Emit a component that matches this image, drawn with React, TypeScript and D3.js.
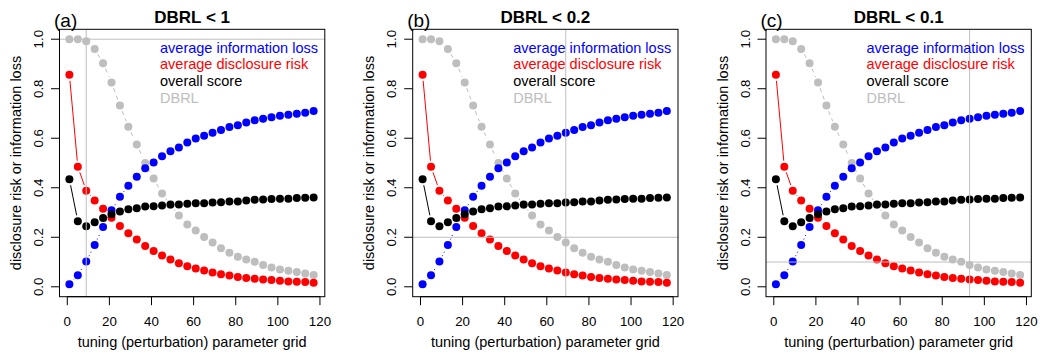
import React from "react";
import * as d3 from "d3";

const gridX = [1, 5, 9, 13, 17, 21, 25, 29, 33, 37, 41, 45, 49, 53, 57, 61, 65, 69, 73, 77, 81, 85, 89, 93, 97, 101, 105, 109, 113, 117];
const infoLoss = [0.010, 0.047, 0.102, 0.169, 0.242, 0.309, 0.364, 0.408, 0.444, 0.479, 0.502, 0.527, 0.547, 0.563, 0.583, 0.599, 0.610, 0.622, 0.633, 0.645, 0.652, 0.664, 0.673, 0.679, 0.685, 0.691, 0.695, 0.699, 0.703, 0.710];
const discRisk = [0.856, 0.485, 0.388, 0.349, 0.315, 0.279, 0.246, 0.216, 0.191, 0.165, 0.145, 0.126, 0.110, 0.095, 0.083, 0.074, 0.066, 0.058, 0.051, 0.046, 0.040, 0.036, 0.032, 0.029, 0.027, 0.024, 0.021, 0.020, 0.019, 0.016];
const overall = [0.434, 0.265, 0.245, 0.261, 0.278, 0.293, 0.304, 0.313, 0.317, 0.324, 0.325, 0.328, 0.332, 0.332, 0.335, 0.337, 0.337, 0.340, 0.341, 0.344, 0.345, 0.349, 0.352, 0.353, 0.355, 0.356, 0.356, 0.359, 0.360, 0.361];
const dbrl = [1.000, 1.000, 0.992, 0.960, 0.903, 0.825, 0.732, 0.646, 0.575, 0.500, 0.437, 0.377, 0.330, 0.288, 0.252, 0.227, 0.201, 0.179, 0.156, 0.138, 0.121, 0.110, 0.101, 0.088, 0.078, 0.070, 0.065, 0.060, 0.054, 0.048];

const panelTags = ["(a)", "(b)", "(c)"];
const panelTitles = ["DBRL < 1", "DBRL < 0.2", "DBRL < 0.1"];
const thresholds = [1, 0.2, 0.1];
const chosenX = [9, 69, 93];

const xTicks = [0, 20, 40, 60, 80, 100, 120];
const yTicks = [0, 0.2, 0.4, 0.6, 0.8, 1.0];

const legendLabels = ["average information loss", "average disclosure risk", "overall score", "DBRL"];
const xLabel = "tuning (perturbation) parameter grid";
const yLabel = "disclosure risk or information loss";

const GRAY = "#BEBEBE";
const FONT = "'Liberation Sans', Arial, Helvetica, sans-serif";

const series = [
  { values: dbrl, color: GRAY, dash: "4,4" },
  { values: infoLoss, color: "#0000FF", dash: "1,3" },
  { values: discRisk, color: "#FF0000", dash: null },
  { values: overall, color: "#000000", dash: null },
];
const legendColors = ["#0000FF", "#FF0000", "#000000", GRAY];

const PANEL_LEFTS = [59.5, 412.7, 766.0];
const BOX_W = 265.3;
const TOP = 29.3;
const BOTTOM = 296.7;

function Panel({ idx }: { idx: number }) {
  const left = PANEL_LEFTS[idx];
  const right = left + BOX_W;
  const x = d3.scaleLinear().domain([-3.7, 122.3]).range([left, right]);
  const y = d3.scaleLinear().domain([-0.04, 1.04]).range([BOTTOM, TOP]);
  const gap = 6;
  const cx = (left + right) / 2;
  const cy = (TOP + BOTTOM) / 2;

  const segs = (vals: number[]) => {
    const out: { x1: number; y1: number; x2: number; y2: number }[] = [];
    for (let i = 0; i < vals.length - 1; i++) {
      const ax = x(gridX[i]), ay = y(vals[i]);
      const bx = x(gridX[i + 1]), by = y(vals[i + 1]);
      const dx = bx - ax, dy = by - ay;
      const d = Math.hypot(dx, dy);
      if (d > 2 * gap) {
        const ux = dx / d, uy = dy / d;
        out.push({ x1: ax + ux * gap, y1: ay + uy * gap, x2: bx - ux * gap, y2: by - uy * gap });
      }
    }
    return out;
  };

  return (
    <g>
      {series.map((s, si) => (
        <g key={si}>
          {segs(s.values).map((sg, k) => (
            <line key={k} x1={sg.x1} y1={sg.y1} x2={sg.x2} y2={sg.y2} stroke={s.color} strokeWidth={1} strokeDasharray={s.dash ?? undefined} />
          ))}
          {s.values.map((v, k) => (
            <circle key={k} cx={x(gridX[k])} cy={y(v)} r={4} fill={s.color} />
          ))}
        </g>
      ))}
      <line x1={left} x2={right} y1={y(thresholds[idx])} y2={y(thresholds[idx])} stroke={GRAY} strokeWidth={1} />
      <line x1={x(chosenX[idx])} x2={x(chosenX[idx])} y1={TOP} y2={BOTTOM} stroke={GRAY} strokeWidth={1} />
      <rect x={left} y={TOP} width={BOX_W} height={BOTTOM - TOP} fill="none" stroke="#000" strokeWidth={1} />
      <line x1={x(0)} x2={x(120)} y1={BOTTOM} y2={BOTTOM} stroke="#000" />
      {xTicks.map((t) => (
        <g key={t}>
          <line x1={x(t)} x2={x(t)} y1={BOTTOM} y2={BOTTOM + 8.5} stroke="#000" />
          <text x={x(t)} y={326} textAnchor="middle" fontSize={13.3} fontFamily={FONT}>{t}</text>
        </g>
      ))}
      {yTicks.map((t) => (
        <g key={t}>
          <line x1={left - 8.5} x2={left} y1={y(t)} y2={y(t)} stroke="#000" />
          <text transform={`translate(${left - 16.5},${y(t)}) rotate(-90)`} textAnchor="middle" fontSize={13.3} fontFamily={FONT}>{t.toFixed(1)}</text>
        </g>
      ))}
      <text x={cx} y={346.5} textAnchor="middle" fontSize={14.5} fontFamily={FONT}>{xLabel}</text>
      <text transform={`translate(${left - 38.5},${cy}) rotate(-90)`} textAnchor="middle" fontSize={14.5} fontFamily={FONT}>{yLabel}</text>
      <text x={cx} y={22.7} textAnchor="middle" fontSize={17} fontWeight="bold" fontFamily={FONT}>{panelTitles[idx]}</text>
      <text x={left - 5.5} y={26.5} fontSize={19} fontFamily={FONT}>{panelTags[idx]}</text>
      {legendLabels.map((lab, k) => (
        <text key={lab} x={left + 100.5} y={52.7 + k * 16.7} fontSize={14.5} fill={legendColors[k]} fontFamily={FONT}>{lab}</text>
      ))}
    </g>
  );
}

export default function App() {
  return (
    <svg width={1040} height={354} style={{ position: "absolute", left: 0, top: 0, background: "#fff" }}>
      <rect x={0} y={0} width={1040} height={354} fill="#fff" />
      {[0, 1, 2].map((i) => (
        <Panel key={i} idx={i} />
      ))}
    </svg>
  );
}
